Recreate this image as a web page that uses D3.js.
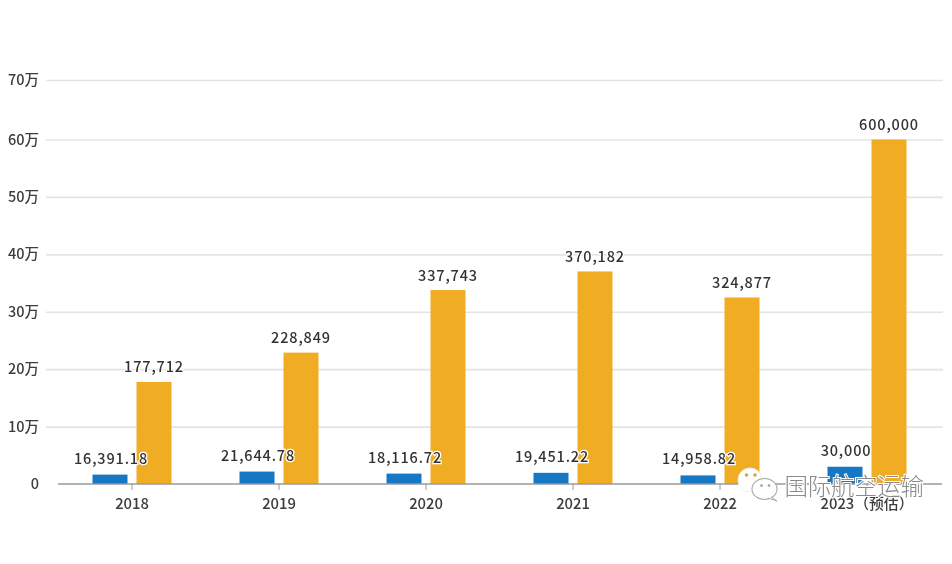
<!DOCTYPE html>
<html><head><meta charset="utf-8">
<script src="https://cdn.jsdelivr.net/npm/d3@7/dist/d3.min.js"></script>
<style>
html,body{margin:0;padding:0;background:#fff}
svg{display:block}
text{font-family:"Noto Sans CJK SC","Noto Sans",sans-serif}
</style></head><body>
<svg id="c" width="952" height="564"></svg>
<script>
const categories=["2018","2019","2020","2021","2022","2023（预估）"];
const seriesA=[16391.18,21644.78,18116.72,19451.22,14958.82,30000];
const seriesB=[177712,228849,337743,370182,324877,600000];
const labelsA=["16,391.18","21,644.78","18,116.72","19,451.22","14,958.82","30,000"];
const labelsB=["177,712","228,849","337,743","370,182","324,877","600,000"];
const yTicks=[0,100000,200000,300000,400000,500000,600000,700000];
const yTickLabels=["0","10万","20万","30万","40万","50万","60万","70万"];
const colorA="#1677c4",colorB="#f0ac24";

const svg=d3.select("#c");
const y=d3.scaleLinear().domain([0,600000,700000]).range([484,139.5,80]);
const x=d3.scaleBand().domain(categories).range([58.5,940.5]);
const x1=d3.scaleBand().domain(["a","b"]).range([0,x.bandwidth()]).paddingInner(9/44).paddingOuter(34/44);

const defs=svg.append("defs");
defs.append("filter").attr("id","soft").append("feGaussianBlur").attr("stdDeviation",0.45);

const root=svg.append("g").attr("filter","url(#soft)");

// grid + y labels
const yAxis=d3.axisLeft(y).tickValues(yTicks).tickFormat((d,i)=>yTickLabels[i]).tickSize(0).tickPadding(7);
const gy=root.append("g").attr("transform","translate(46,0)").call(yAxis);
gy.select(".domain").remove();
gy.selectAll("text").attr("font-size",14.5).attr("font-weight",500).attr("fill","#3c3c3c").attr("dy","0.32em");
gy.selectAll(".tick").append("line").attr("x1",0).attr("x2",897).attr("stroke",d=>d===0?"none":"#e4e4e6").attr("stroke-width",1.6);

// bars
const groups=root.append("g").selectAll("g").data(categories).join("g").attr("transform",d=>`translate(${x(d)},0)`);
groups.append("rect").attr("x",x1("a")).attr("width",x1.bandwidth())
  .attr("y",(d,i)=>y(seriesA[i])).attr("height",(d,i)=>y(0)-y(seriesA[i])).attr("fill",colorA);
groups.append("rect").attr("x",x1("b")).attr("width",x1.bandwidth())
  .attr("y",(d,i)=>y(seriesB[i])).attr("height",(d,i)=>y(0)-y(seriesB[i])).attr("fill",colorB);

// x axis
const xAxis=d3.axisBottom(x).tickSize(6).tickPadding(8.5);
const gx=root.append("g").attr("transform","translate(0,484)").call(xAxis);
gx.select(".domain").attr("stroke","#9a9a9e").attr("stroke-width",1.4).attr("d","M58,0H942");
gx.selectAll("line").attr("stroke","#9a9a9e");
gx.selectAll("text").attr("font-size",14.8).attr("font-weight",500).attr("fill","#3c3c3c");

// value labels
function labels(vals,texts,key,dx,off){
  groups.append("text").attr("x",x1(key)+x1.bandwidth()/2+dx)
   .attr("y",(d,i)=>y(vals[i])-off).attr("text-anchor","middle")
   .attr("font-size",14.5).attr("font-weight",500).attr("letter-spacing",0.85).attr("fill","#333")
   .attr("stroke","#fff").attr("stroke-width",2.5).attr("paint-order","stroke")
   .text((d,i)=>texts[i]);
}
labels(seriesA,labelsA,"a",1,11);
labels(seriesB,labelsB,"b",0,9.5);

// watermark
const wm=root.append("g").attr("transform","translate(738,467)");
wm.append("path").attr("d","M8,23 L6,29 L15,24Z").attr("fill","#fff");
wm.append("ellipse").attr("cx",12).attr("cy",13).attr("rx",12).attr("ry",12).attr("fill","#fff").attr("stroke","#eee").attr("stroke-width",1);
wm.append("circle").attr("cx",8.5).attr("cy",8).attr("r",1.8).attr("fill","#d8a24a");
wm.append("circle").attr("cx",17).attr("cy",8).attr("r",1.8).attr("fill","#d8a24a");
wm.append("ellipse").attr("cx",26.5).attr("cy",22).attr("rx",12.5).attr("ry",10.5).attr("fill","#fff").attr("stroke","#aaa").attr("stroke-width",1.1);
wm.append("circle").attr("cx",23.5).attr("cy",18.5).attr("r",1.3).attr("fill","#999");
wm.append("circle").attr("cx",31).attr("cy",18.5).attr("r",1.3).attr("fill","#999");
wm.append("path").attr("d","M33,30 L39,34 L30,31").attr("fill","#fff").attr("stroke","#aaa").attr("stroke-width",1);
root.append("text").attr("x",784.5).attr("y",495).attr("font-size",23.5).attr("font-weight",300).attr("letter-spacing",-0.3)
  .attr("fill","#8a8a8a").attr("stroke","#fff").attr("stroke-width",2).attr("paint-order","stroke").text("国际航空运输");
</script>
</body></html>
